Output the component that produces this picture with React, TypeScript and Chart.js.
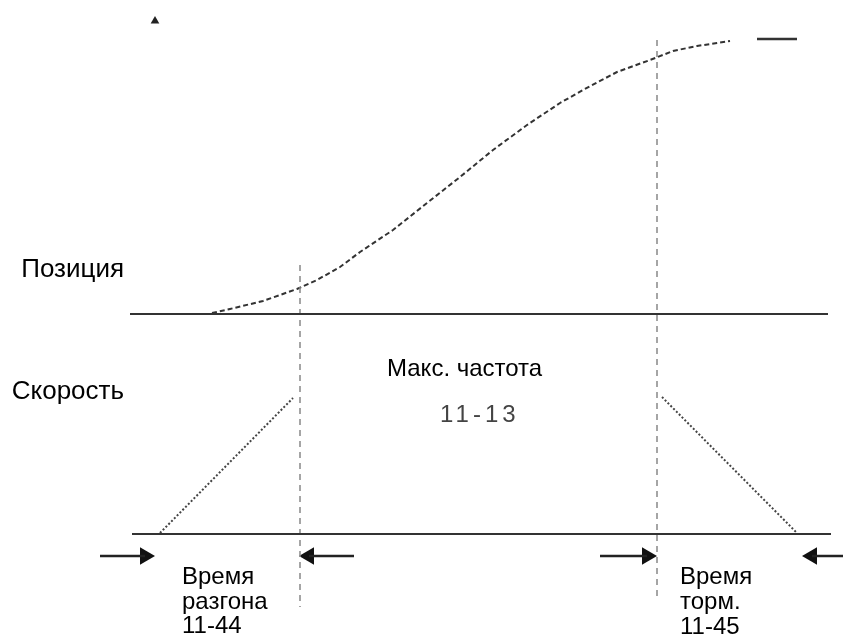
import React, { useEffect, useRef } from "react";
import { Chart, registerables } from "chart.js";

Chart.register(...registerables);

// Diagram coordinates (abstract units on hidden linear scales)
const POSITION_X = [212, 230, 263, 297, 317, 340, 360, 393, 427, 460, 493, 527, 560, 583, 617, 650, 673, 697, 717, 730];
const POSITION_Y = [313, 309, 301, 289, 280, 267, 252, 230, 203, 177, 150, 125, 103, 90, 72, 60, 51, 46, 43, 41];
const POSITION_END_X = [757, 797];
const POSITION_END_Y = [39, 39];

const ACCEL_X = [160, 293];
const ACCEL_Y = [533, 398];
const DECEL_X = [662, 797];
const DECEL_Y = [397, 533];

const BASE_POS_X = [130, 828];
const BASE_POS_Y = [314, 314];
const BASE_SPEED_X = [132, 831];
const BASE_SPEED_Y = [534, 534];

const ACCEL_MARK_X = [300, 300];
const ACCEL_MARK_Y = [265, 607];
const DECEL_MARK_X = [657, 657];
const DECEL_MARK_Y = [40, 598];

const ARROW_LINES = [
  [100, 145],
  [309, 354],
  [600, 647],
  [812, 843],
];
const ARROW_Y = 556;
const ARROW_TIPS_X = [155, 299, 657, 802];
const ARROW_DIR = [90, -90, 90, -90];

const AXIS_MARK_X = [155];
const AXIS_MARK_Y = [21];

const SIDE_LABELS = ["Позиция", "Скорость"];
const MAX_FREQ_LABEL = "Макс. частота";
const MAX_FREQ_PARAM = "11-13";
const ACCEL_LABEL = ["Время", "разгона", "11-44"];
const DECEL_LABEL = ["Время", "торм.", "11-45"];

const zip = (xs: number[], ys: number[]) => xs.map((x, i) => ({ x, y: ys[i] }));

const lineDs = (data: { x: number; y: number }[], color: string, width: number, dash: number[] = []) => ({
  type: "scatter" as const,
  data,
  showLine: true,
  borderColor: color,
  backgroundColor: color,
  borderWidth: width,
  borderDash: dash,
  pointRadius: 0,
  tension: 0,
  clip: false as any,
});

const FONT = '24px "Liberation Sans", Arial, sans-serif';
const SIDE_FONT = '26px "Liberation Sans", Arial, sans-serif';

const textPlugin = {
  id: "diagramText",
  afterDatasetsDraw(chart: any) {
    const { ctx, scales } = chart;
    const px = (v: number) => scales.x.getPixelForValue(v);
    const py = (v: number) => scales.y.getPixelForValue(v);
    ctx.save();
    ctx.fillStyle = "#000";
    ctx.textAlign = "right";
    ctx.textBaseline = "alphabetic";
    ctx.font = SIDE_FONT;
    ctx.fillText(SIDE_LABELS[0], px(124), py(277));
    ctx.fillText(SIDE_LABELS[1], px(124), py(399));
    ctx.textAlign = "left";
    ctx.font = FONT;
    ctx.fillText(MAX_FREQ_LABEL, px(387), py(376));
    ACCEL_LABEL.forEach((t, i) => ctx.fillText(t, px(182), py(584 + i * 24.5)));
    DECEL_LABEL.forEach((t, i) => ctx.fillText(t, px(680), py(584 + i * 25)));
    ctx.fillStyle = "#444";
    (ctx as any).letterSpacing = "4px";
    ctx.fillText(MAX_FREQ_PARAM, px(440), py(422));
    ctx.restore();
  },
};

export default function App() {
  const ref = useRef<HTMLCanvasElement | null>(null);
  useEffect(() => {
    if (!ref.current) return;
    const datasets: any[] = [
      lineDs(zip(BASE_POS_X, BASE_POS_Y), "#333", 2),
      lineDs(zip(BASE_SPEED_X, BASE_SPEED_Y), "#333", 2),
      lineDs(zip(ACCEL_MARK_X, ACCEL_MARK_Y), "#888", 1.5, [6, 5]),
      lineDs(zip(DECEL_MARK_X, DECEL_MARK_Y), "#888", 1.5, [6, 5]),
      lineDs(zip(POSITION_X, POSITION_Y), "#333", 2, [5, 3]),
      lineDs(zip(POSITION_END_X, POSITION_END_Y), "#333", 2.5),
      lineDs(zip(ACCEL_X, ACCEL_Y), "#444", 2, [2, 2]),
      lineDs(zip(DECEL_X, DECEL_Y), "#444", 2, [2, 2]),
      ...ARROW_LINES.map((xs) => lineDs(zip(xs, [ARROW_Y, ARROW_Y]), "#222", 2.5)),
      {
        type: "scatter",
        data: ARROW_TIPS_X.map((x, i) => ({ x: x - (ARROW_DIR[i] > 0 ? 10 : -10), y: ARROW_Y })),
        pointStyle: "triangle",
        pointRotation: ARROW_DIR,
        pointRadius: 10,
        backgroundColor: "#111",
        borderColor: "#111",
        borderWidth: 0,
        clip: false,
      },
      {
        type: "scatter",
        data: zip(AXIS_MARK_X, AXIS_MARK_Y),
        pointStyle: "triangle",
        pointRadius: 5,
        backgroundColor: "#222",
        borderColor: "#222",
        borderWidth: 0,
        clip: false,
      },
    ];
    const chart = new Chart(ref.current, {
      type: "scatter",
      data: { datasets },
      options: {
        animation: false,
        responsive: false,
        devicePixelRatio: 1,
        events: [],
        layout: { padding: 0, autoPadding: false },
        plugins: { legend: { display: false }, tooltip: { enabled: false }, title: { display: false } },
        scales: {
          x: { type: "linear", min: 0, max: 843, display: false },
          y: { type: "linear", min: 0, max: 639, reverse: true, display: false },
        },
      },
      plugins: [textPlugin],
    } as any);
    return () => chart.destroy();
  }, []);
  return (
    <div style={{ position: "absolute", left: 0, top: 0, width: 843, height: 639, background: "#fff" }}>
      <canvas ref={ref} width={843} height={639} style={{ display: "block" }} />
    </div>
  );
}
